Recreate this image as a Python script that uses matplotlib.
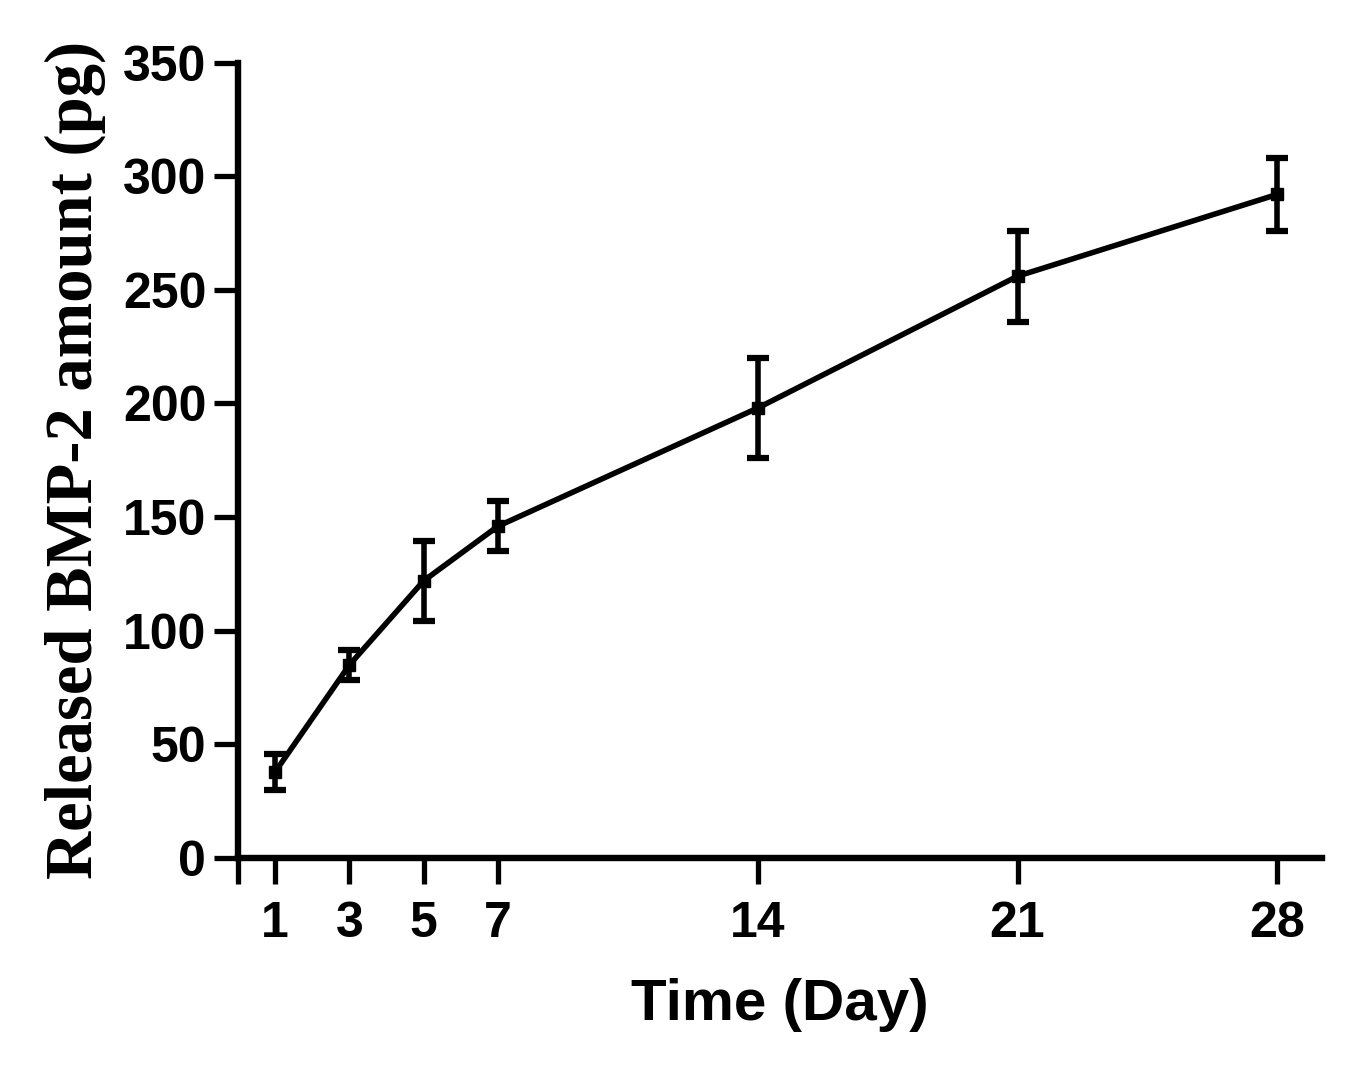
import matplotlib
matplotlib.use('Agg')
import matplotlib.pyplot as plt

# release data
days = [1, 3, 5, 7, 14, 21, 28]
released = [38, 85, 122, 146, 198, 256, 292]
sd = [8, 6.5, 17.5, 11, 22, 20, 16]
tick_days = [0, 1, 3, 5, 7, 14, 21, 28]
tick_labels = ['', '1', '3', '5', '7', '14', '21', '28']
y_ticks = [0, 50, 100, 150, 200, 250, 300, 350]

fig = plt.figure(figsize=(13.53, 10.78), dpi=100)
ax = fig.add_axes([0.176, 0.204, 0.801, 0.738])

ax.errorbar(days, released, yerr=sd, color='black', linewidth=4,
            marker='s', markersize=9, elinewidth=4, capsize=8,
            capthick=4.5, clip_on=False, zorder=3)

ax.set_xlim(0, 29.2)
ax.set_ylim(0, 350)
ax.set_xticks(tick_days)
ax.set_xticklabels(tick_labels)
ax.set_yticks(y_ticks)

for side in ['top', 'right']:
    ax.spines[side].set_visible(False)
for side in ['left', 'bottom']:
    ax.spines[side].set_linewidth(4.6)

ax.tick_params(axis='x', length=19, width=3.8, direction='out', pad=12)
ax.tick_params(axis='y', length=17, width=3.8, direction='out', pad=6)

for lab in ax.get_xticklabels() + ax.get_yticklabels():
    lab.set_fontfamily('Liberation Sans')
    lab.set_fontweight('bold')
    lab.set_fontsize(36)

ax.set_xlabel('Time (Day)', fontfamily='Liberation Sans', fontweight='bold',
              fontsize=42, labelpad=22)
ax.set_ylabel('Released BMP-2 amount (pg)', fontfamily='Liberation Serif',
              fontweight='bold', fontsize=48, labelpad=12)

fig.savefig('out.png', dpi=100, facecolor='white')
